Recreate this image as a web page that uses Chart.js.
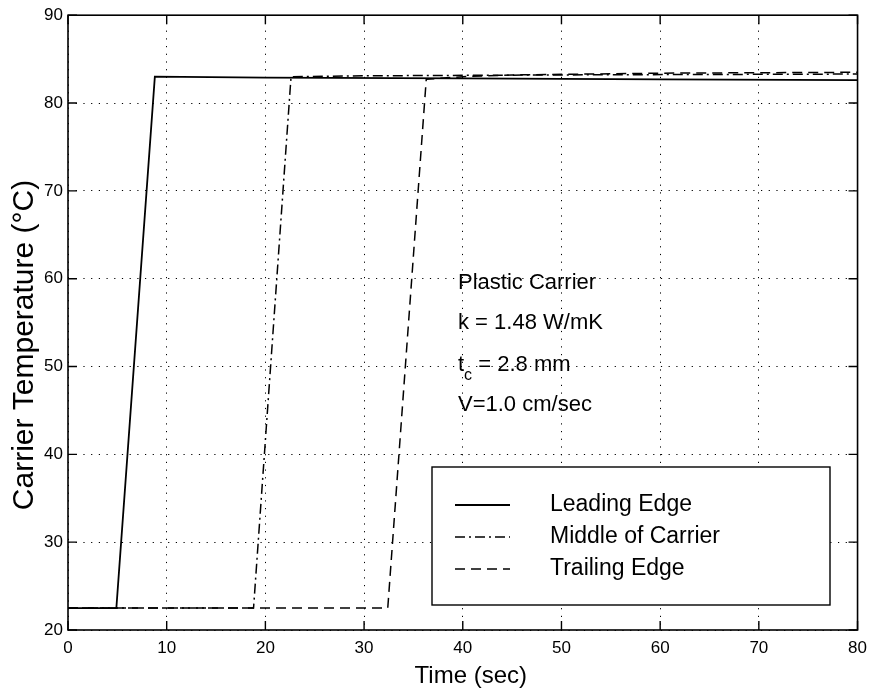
<!DOCTYPE html>
<html>
<head>
<meta charset="utf-8">
<script src="https://cdn.jsdelivr.net/npm/chart.js@4.4.1/dist/chart.umd.min.js"></script>
<style>
  html, body { margin: 0; padding: 0; background: #fff; }
  canvas { display: block; }
</style>
</head>
<body>
<canvas id="graficoTemp" width="875" height="690"></canvas>
<script>
// dados
const leadingTime = [0, 4.9, 8.8, 20, 40, 60, 80];
const leadingTemp = [22.5, 22.5, 83.0, 82.9, 82.8, 82.7, 82.6];
const middleTime = [0, 18.8, 22.6, 30, 50, 80];
const middleTemp = [22.5, 22.5, 83.0, 83.1, 83.2, 83.3];
const trailingTime = [0, 32.4, 36.3, 40, 45, 60, 80];
const trailingTemp = [22.5, 22.5, 82.7, 83.0, 83.2, 83.4, 83.5];
const seriesNames = ['Leading Edge', 'Middle of Carrier', 'Trailing Edge'];
const xTicks = [0, 10, 20, 30, 40, 50, 60, 70, 80];
const yTicks = [20, 30, 40, 50, 60, 70, 80, 90];
const xTitle = 'Time (sec)';
const yTitle = 'Carrier Temperature (\u00B0C)';
const noteLines = [
  { text: 'Plastic Carrier' },
  { text: 'k = 1.48 W/mK' },
  { text: 't', sub: 'c', rest: ' = 2.8 mm' },
  { text: 'V=1.0 cm/sec' }
];

const FONT = '"Liberation Sans", Arial, Helvetica, sans-serif';

function pontos(xs, ys) {
  return xs.map((x, i) => ({ x: x, y: ys[i] }));
}

const estilos = [
  { borderWidth: 1.8, borderDash: [] },
  { borderWidth: 1.5, borderDash: [10, 4, 2, 4] },
  { borderWidth: 1.5, borderDash: [10, 6] }
];

const molduraPlugin = {
  id: 'moldura',
  afterDraw(chart) {
    const ctx = chart.ctx;
    const area = chart.chartArea;
    const sx = chart.scales.x;
    const sy = chart.scales.y;
    ctx.save();
    ctx.strokeStyle = '#000';
    ctx.lineWidth = 1.6;
    ctx.setLineDash([]);
    ctx.strokeRect(area.left, area.top, area.right - area.left, area.bottom - area.top);

    // marcas para dentro, nos quatro lados
    const tl = 9;
    ctx.lineWidth = 1.4;
    ctx.beginPath();
    xTicks.forEach(v => {
      const px = sx.getPixelForValue(v);
      ctx.moveTo(px, area.bottom); ctx.lineTo(px, area.bottom - tl);
      ctx.moveTo(px, area.top); ctx.lineTo(px, area.top + tl);
    });
    yTicks.forEach(v => {
      const py = sy.getPixelForValue(v);
      ctx.moveTo(area.left, py); ctx.lineTo(area.left + tl, py);
      ctx.moveTo(area.right, py); ctx.lineTo(area.right - tl, py);
    });
    ctx.stroke();

    // titulos dos eixos
    ctx.fillStyle = '#000';
    ctx.font = '24px ' + FONT;
    ctx.textAlign = 'center';
    ctx.textBaseline = 'middle';
    ctx.fillText(xTitle, (area.left + area.right) / 2 + 8, 676);
    ctx.save();
    ctx.translate(25, 345);
    ctx.rotate(-Math.PI / 2);
    ctx.font = '30px ' + FONT;
    ctx.fillText(yTitle, 0, 0);
    ctx.restore();

    // anotacao
    ctx.textAlign = 'left';
    ctx.textBaseline = 'middle';
    const notaX = 458;
    const notaY = [283, 323, 365, 405];
    noteLines.forEach((ln, i) => {
      let x = notaX;
      ctx.font = '22px ' + FONT;
      ctx.fillText(ln.text, x, notaY[i]);
      x += ctx.measureText(ln.text).width;
      if (ln.sub) {
        ctx.font = '16px ' + FONT;
        ctx.fillText(ln.sub, x, notaY[i] + 11);
        x += ctx.measureText(ln.sub).width;
        ctx.font = '22px ' + FONT;
        ctx.fillText(ln.rest, x, notaY[i]);
      }
    });

    // legenda
    const box = { left: 432, top: 467, right: 830, bottom: 605 };
    ctx.fillStyle = '#fff';
    ctx.fillRect(box.left, box.top, box.right - box.left, box.bottom - box.top);
    ctx.strokeStyle = '#000';
    ctx.lineWidth = 1.4;
    ctx.strokeRect(box.left, box.top, box.right - box.left, box.bottom - box.top);
    const itemY = [505, 537, 569];
    ctx.font = '23px ' + FONT;
    chart.data.datasets.forEach((ds, i) => {
      ctx.save();
      ctx.lineWidth = ds.borderWidth;
      ctx.setLineDash(ds.borderDash);
      ctx.beginPath();
      ctx.moveTo(455, itemY[i]);
      ctx.lineTo(510, itemY[i]);
      ctx.stroke();
      ctx.restore();
      ctx.fillStyle = '#000';
      ctx.fillText(ds.label, 550, itemY[i]);
    });
    ctx.restore();
  }
};

const ctx = document.getElementById('graficoTemp').getContext('2d');
new Chart(ctx, {
  type: 'line',
  data: {
    datasets: [
      { label: seriesNames[0], data: pontos(leadingTime, leadingTemp) },
      { label: seriesNames[1], data: pontos(middleTime, middleTemp) },
      { label: seriesNames[2], data: pontos(trailingTime, trailingTemp) }
    ].map((d, i) => Object.assign(d, {
      borderColor: '#000',
      backgroundColor: '#000',
      borderWidth: estilos[i].borderWidth,
      borderDash: estilos[i].borderDash,
      pointRadius: 0,
      tension: 0,
      fill: false
    }))
  },
  options: {
    responsive: false,
    animation: false,
    layout: { padding: { top: 11, right: 15, left: 0, bottom: 0 } },
    plugins: {
      legend: { display: false },
      tooltip: { enabled: false }
    },
    scales: {
      x: {
        type: 'linear',
        min: 0,
        max: 80,
        afterBuildTicks: (scale) => { scale.ticks = xTicks.map(v => ({ value: v })); },
        afterFit: (scale) => { scale.height = 60; },
        ticks: { color: '#000', font: { size: 17, family: FONT }, padding: 8, maxRotation: 0 },
        grid: { color: '#000', lineWidth: 1, drawTicks: false },
        border: { display: false, dash: [1.2, 6.5] }
      },
      y: {
        min: 20,
        max: 90,
        afterBuildTicks: (scale) => { scale.ticks = yTicks.map(v => ({ value: v })); },
        afterFit: (scale) => { scale.width = 68; },
        ticks: { color: '#000', font: { size: 17, family: FONT }, padding: 5 },
        grid: { color: '#000', lineWidth: 1, drawTicks: false },
        border: { display: false, dash: [1.2, 6.5] }
      }
    }
  },
  plugins: [molduraPlugin]
});
</script>
</body>
</html>
